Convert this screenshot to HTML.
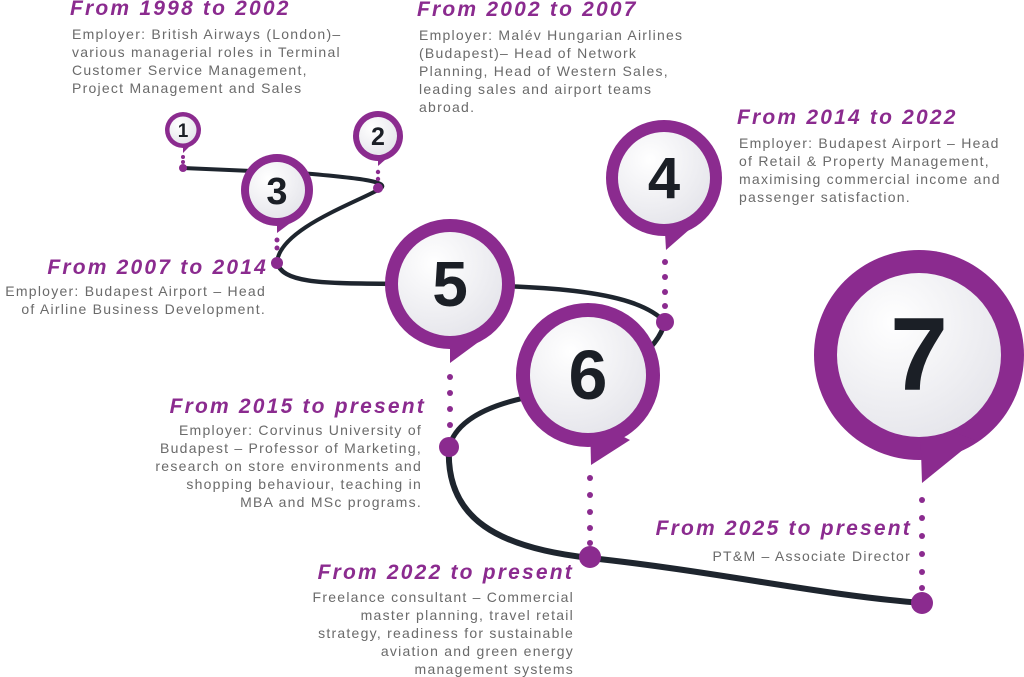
<!DOCTYPE html>
<html><head><meta charset="utf-8"><style>
html,body{margin:0;padding:0;background:#fff;}
svg{display:block;}
.t{font-family:"Liberation Sans",sans-serif;font-weight:bold;font-style:italic;fill:#8b2b8f;font-size:21px;letter-spacing:2.2px;}
.b{font-family:"Liberation Sans",sans-serif;fill:#6a6a6a;font-size:14px;letter-spacing:1.25px;}
.n{font-family:"Liberation Sans",sans-serif;font-weight:bold;fill:#1b1f26;text-anchor:middle;}
</style></head><body>
<svg width="1024" height="677" viewBox="0 0 1024 677" xmlns="http://www.w3.org/2000/svg">
<defs>
<radialGradient id="g" cx="35%" cy="30%" r="80%"><stop offset="0" stop-color="#ffffff"/><stop offset="1" stop-color="#e4e4ea"/></radialGradient>
</defs>
<g fill="none" stroke="#1e252e" stroke-linecap="round">
<path d="M183,168 L300,173 C360,178 395,182 378,190 C350,205 280,230 277,262" stroke-width="4"/>
<path d="M277,262 C282,285 330,283 400,284 C520,286 630,285 665,322" stroke-width="4.5"/>
<path d="M665,322 C655,360 600,385 540,395 C480,405 455,425 449,447" stroke-width="5"/>
<path d="M449,447 C445,520 500,548 590,558 C720,572 820,595 922,603" stroke-width="6"/>
</g>
<g fill="#8b2b8f">
<circle cx="183" cy="157" r="2"/><circle cx="183" cy="162" r="2"/>
<circle cx="378" cy="172" r="2.2"/><circle cx="378" cy="179" r="2.2"/>
<circle cx="277" cy="240" r="2.5"/><circle cx="277" cy="248" r="2.5"/>
<circle cx="665" cy="262" r="3"/><circle cx="665" cy="277" r="3"/><circle cx="665" cy="292" r="3"/><circle cx="665" cy="306" r="3"/>
<circle cx="450" cy="377" r="3"/><circle cx="450" cy="393" r="3"/><circle cx="450" cy="409" r="3"/><circle cx="450" cy="425" r="3"/>
<circle cx="590" cy="478" r="3"/><circle cx="590" cy="495" r="3"/><circle cx="590" cy="512" r="3"/><circle cx="590" cy="528" r="3"/><circle cx="590" cy="543" r="3"/>
<circle cx="922" cy="500" r="3"/><circle cx="922" cy="518" r="3"/><circle cx="922" cy="536" r="3"/><circle cx="922" cy="554" r="3"/><circle cx="922" cy="572" r="3"/><circle cx="922" cy="588" r="3"/>
<circle cx="183" cy="168" r="4"/><circle cx="378" cy="188" r="5"/><circle cx="277" cy="263" r="6"/>
<circle cx="665" cy="322" r="9"/><circle cx="449" cy="447" r="10"/><circle cx="590" cy="557" r="11"/><circle cx="922" cy="603" r="11"/>
</g>
<g fill="#8b2b8f">
<circle cx="183" cy="130" r="18"/><path d="M183,140 L183,153 L193,143 Z"/>
<circle cx="378" cy="136" r="25"/><path d="M378,150 L378,166 L392,154 Z"/>
<circle cx="277" cy="190" r="36"/><path d="M277,210 L277,233 L297,218 Z"/>
<circle cx="664" cy="178" r="58"/><path d="M664,215 L666,250 L698,222 Z"/>
<circle cx="450" cy="284" r="65"/><path d="M450,325 L450,363 L488,335 Z"/>
<circle cx="588" cy="375" r="72"/><path d="M590,420 L591,465 L630,440 Z"/>
<circle cx="919" cy="355" r="105"/><path d="M920,420 L922,483 L975,440 Z"/>
</g>
<g fill="url(#g)">
<circle cx="183" cy="130" r="13.5"/>
<circle cx="378" cy="136" r="19"/>
<circle cx="277" cy="190" r="28"/>
<circle cx="664" cy="178" r="46"/>
<circle cx="450" cy="284" r="52"/>
<circle cx="588" cy="375" r="58"/>
<circle cx="919" cy="355" r="82"/>
</g>
<text class="n" x="183" y="137" font-size="19">1</text>
<text class="n" x="378" y="145" font-size="25">2</text>
<text class="n" x="277" y="204" font-size="38">3</text>
<text class="n" x="664" y="198" font-size="58">4</text>
<text class="n" x="450" y="306" font-size="64">5</text>
<text class="n" x="588" y="399" font-size="70">6</text>
<text class="n" x="919" y="390" font-size="104">7</text>
<text class="t" x="70" y="15">From 1998  to 2002</text>
<text class="b"><tspan x="72" y="39">Employer: British Airways (London)–</tspan><tspan x="72" y="57">various managerial roles in Terminal</tspan><tspan x="72" y="75">Customer Service Management,</tspan><tspan x="72" y="93">Project Management and Sales</tspan></text>
<text class="t" x="417" y="16">From 2002 to 2007</text>
<text class="b"><tspan x="419" y="40">Employer: Malév Hungarian Airlines</tspan><tspan x="419" y="58">(Budapest)– Head of Network</tspan><tspan x="419" y="76">Planning, Head of Western Sales,</tspan><tspan x="419" y="94">leading sales and airport teams</tspan><tspan x="419" y="112">abroad.</tspan></text>
<text class="t" x="737" y="124">From 2014 to 2022</text>
<text class="b"><tspan x="739" y="148">Employer: Budapest Airport – Head</tspan><tspan x="739" y="166">of Retail &amp; Property Management,</tspan><tspan x="739" y="184">maximising commercial income and</tspan><tspan x="739" y="202">passenger satisfaction.</tspan></text>
<g text-anchor="end">
<text class="t" x="268" y="274">From 2007 to 2014</text>
<text class="b"><tspan x="266" y="296">Employer: Budapest Airport – Head</tspan><tspan x="266" y="314">of Airline Business Development.</tspan></text>
<text class="t" x="426" y="413">From 2015 to present</text>
<text class="b"><tspan x="422" y="435">Employer: Corvinus University of</tspan><tspan x="422" y="453">Budapest – Professor of Marketing,</tspan><tspan x="422" y="471">research on store environments and</tspan><tspan x="422" y="489">shopping behaviour, teaching in</tspan><tspan x="422" y="507">MBA and MSc programs.</tspan></text>
<text class="t" x="912" y="535">From 2025 to present</text>
<text class="b" x="911" y="561">PT&amp;M – Associate Director</text>
<text class="t" x="574" y="579">From 2022 to present</text>
<text class="b"><tspan x="574" y="602">Freelance consultant – Commercial</tspan><tspan x="574" y="620">master planning, travel retail</tspan><tspan x="574" y="638">strategy, readiness for sustainable</tspan><tspan x="574" y="656">aviation and green energy</tspan><tspan x="574" y="674">management systems</tspan></text>
</g>
</svg>
</body></html>
